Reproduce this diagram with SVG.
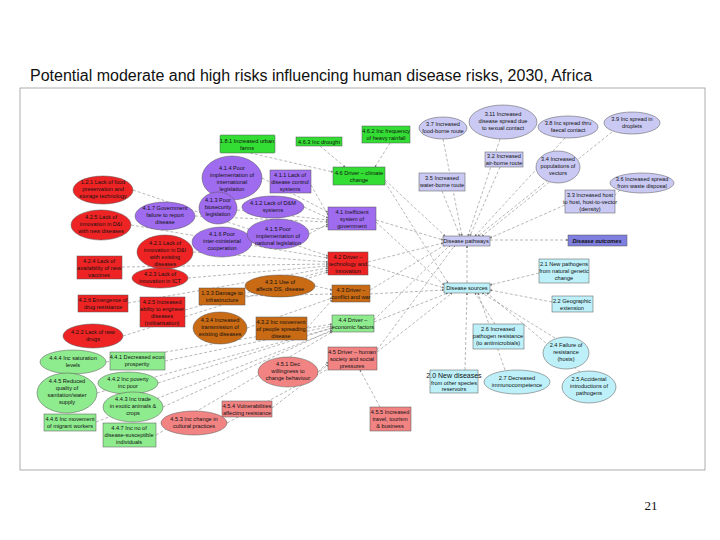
<svg xmlns="http://www.w3.org/2000/svg" width="720" height="540" viewBox="0 0 720 540">
<defs>
<marker id="ah" viewBox="0 0 6 6" refX="5" refY="3" markerWidth="4" markerHeight="4" orient="auto"><path d="M0,0L6,3L0,6z" fill="#777"/></marker>
<style>
text{font-family:"Liberation Sans",Arial,sans-serif;font-size:5.6px;fill:#111;text-anchor:middle}
.t{font-size:16px;text-anchor:start}
.pg{font-family:"Liberation Serif",serif;font-size:13px}
.n{stroke:#555;stroke-width:0.5}
.g{fill:#33dd33}.lg{fill:#8eeb8e}.p{fill:#9f6cf0}.r{fill:#ee2424}.o{fill:#c96a14}.pk{fill:#f18383}.c{fill:#bdf0f8}.l{fill:#c9c9f3}.d{fill:#7f7fe0}
#edges line{stroke:#888;stroke-width:0.6;stroke-dasharray:3,2;marker-end:url(#ah)}
</style>
</defs>
<rect width="720" height="540" fill="#fff"/>
<text class="t" x="30" y="81">Potential moderate and high risks influencing human disease risks, 2030, Africa</text>
<rect x="20" y="88" width="685" height="382" fill="none" stroke="#999" stroke-width="0.8"/>
<text class="pg" x="651" y="510">21</text>
<g id="edges">
<line x1="250" y1="153" x2="333" y2="172"/><line x1="320" y1="146" x2="345" y2="167"/><line x1="390" y1="143" x2="375" y2="167"/>
<line x1="385" y1="180" x2="445" y2="236"/><line x1="376" y1="220" x2="443" y2="240"/><line x1="368" y1="262" x2="443" y2="243"/><line x1="370" y1="290" x2="445" y2="245"/><line x1="374" y1="320" x2="450" y2="245"/><line x1="377" y1="350" x2="455" y2="245"/>
<line x1="385" y1="182" x2="448" y2="283"/><line x1="376" y1="222" x2="444" y2="285"/><line x1="368" y1="265" x2="444" y2="288"/><line x1="370" y1="294" x2="444" y2="290"/><line x1="374" y1="322" x2="448" y2="293"/><line x1="377" y1="352" x2="452" y2="293"/>
<line x1="443" y1="139" x2="462" y2="236"/><line x1="500" y1="139" x2="468" y2="236"/><line x1="565" y1="138" x2="475" y2="236"/><line x1="612" y1="132" x2="482" y2="236"/><line x1="500" y1="167" x2="470" y2="236"/><line x1="548" y1="180" x2="478" y2="236"/><line x1="565" y1="205" x2="490" y2="238"/><line x1="442" y1="191" x2="460" y2="236"/><line x1="620" y1="190" x2="610" y2="200"/>
<line x1="467" y1="283" x2="467" y2="246"/>
<line x1="490" y1="240" x2="568" y2="240"/>
<line x1="539" y1="273" x2="490" y2="285"/><line x1="552" y1="302" x2="490" y2="290"/><line x1="495" y1="324" x2="475" y2="293"/><line x1="555" y1="338" x2="482" y2="293"/><line x1="465" y1="370" x2="467" y2="293"/><line x1="505" y1="370" x2="478" y2="293"/><line x1="580" y1="372" x2="487" y2="293"/>
<line x1="262" y1="178" x2="328" y2="212"/><line x1="311" y1="185" x2="328" y2="215"/><line x1="304" y1="207" x2="328" y2="218"/><line x1="237" y1="210" x2="328" y2="220"/><line x1="309" y1="234" x2="328" y2="224"/><line x1="195" y1="216" x2="328" y2="222"/><line x1="252" y1="242" x2="328" y2="226"/>
<line x1="193" y1="252" x2="328" y2="262"/><line x1="188" y1="278" x2="328" y2="266"/><line x1="131" y1="225" x2="328" y2="258"/><line x1="122" y1="267" x2="328" y2="264"/><line x1="128" y1="303" x2="328" y2="268"/><line x1="185" y1="310" x2="328" y2="270"/><line x1="123" y1="336" x2="328" y2="272"/><line x1="133" y1="190" x2="328" y2="256"/>
<line x1="245" y1="296" x2="332" y2="294"/><line x1="315" y1="286" x2="332" y2="290"/><line x1="247" y1="328" x2="332" y2="298"/><line x1="307" y1="328" x2="332" y2="300"/>
<line x1="165" y1="361" x2="332" y2="326"/><line x1="106" y1="362" x2="332" y2="324"/><line x1="97" y1="393" x2="332" y2="328"/><line x1="158" y1="383" x2="332" y2="328"/><line x1="163" y1="407" x2="332" y2="330"/><line x1="96" y1="422" x2="332" y2="331"/><line x1="156" y1="435" x2="332" y2="332"/>
<line x1="318" y1="372" x2="328" y2="362"/><line x1="272" y1="408" x2="328" y2="365"/><line x1="227" y1="423" x2="330" y2="368"/><line x1="380" y1="407" x2="360" y2="370"/>
</g>
<g id="n181"><rect class="n g" x="220" y="135" width="55" height="18" rx="1"/><text x="247" y="143">1.8.1 Increased urban</text><text x="247" y="150">farms</text></g>
<g id="n463"><rect class="n g" x="296" y="137" width="46" height="9"/><text x="319" y="143.5">4.6.3 Inc drought</text></g>
<g id="n462"><rect class="n g" x="362" y="126" width="48" height="17"/><text x="386" y="133">4.6.2 Inc frequency</text><text x="386" y="140">of heavy rainfall</text></g>
<g id="n46"><rect class="n g" x="333" y="167" width="52" height="18"/><text x="359" y="174.5">4.6 Driver – climate</text><text x="359" y="181.5">change</text></g>
<g id="n414"><ellipse class="n p" cx="232" cy="178" rx="30" ry="22"/><text x="232" y="170">4.1.4 Poor</text><text x="232" y="177">implementation of</text><text x="232" y="184">international</text><text x="232" y="191">legislation</text></g>
<g id="n411"><rect class="n p" x="270" y="170" width="41" height="23"/><text x="290" y="177">4.1.1 Lack of</text><text x="290" y="184">disease control</text><text x="290" y="191">systems</text></g>
<g id="n121"><ellipse class="n r" cx="103" cy="190" rx="30" ry="14"/><text x="103" y="184">1.2.1 Lack of food</text><text x="103" y="191">preservation and</text><text x="103" y="198">storage technology</text></g>
<g id="n425"><ellipse class="n r" cx="101" cy="225" rx="30" ry="15"/><text x="101" y="219">4.2.5 Lack of</text><text x="101" y="226">innovation in D&amp;I</text><text x="101" y="233">with new diseases</text></g>
<g id="n417"><ellipse class="n p" cx="165" cy="216" rx="30" ry="14"/><text x="165" y="210">4.1.7 Government</text><text x="165" y="217">failure to report</text><text x="165" y="224">disease</text></g>
<g id="n413"><ellipse class="n p" cx="218" cy="208" rx="19" ry="16"/><text x="218" y="202">4.1.3 Poor</text><text x="218" y="209">biosecurity</text><text x="218" y="216">legislation</text></g>
<g id="n412"><ellipse class="n p" cx="273" cy="207" rx="31" ry="11"/><text x="273" y="205">4.1.2 Lack of D&amp;M</text><text x="273" y="212">systems</text></g>
<g id="n41"><rect class="n p" x="328" y="207" width="48" height="23"/><text x="352" y="214">4.1 Inefficient</text><text x="352" y="221">system of</text><text x="352" y="228">government</text></g>
<g id="n416"><ellipse class="n p" cx="222" cy="242" rx="30" ry="15"/><text x="222" y="236">4.1.6 Poor</text><text x="222" y="243">inter-ministerial</text><text x="222" y="250">cooperation</text></g>
<g id="n415"><ellipse class="n p" cx="278" cy="234" rx="31" ry="15"/><text x="278" y="231">4.1.5 Poor</text><text x="278" y="238">implementation of</text><text x="278" y="245">national legislation</text></g>
<g id="n421"><ellipse class="n r" cx="165" cy="252" rx="28" ry="17"/><text x="165" y="245">4.2.1 Lack of</text><text x="165" y="252">innovation in D&amp;I</text><text x="165" y="259">with existing</text><text x="165" y="266">diseases</text></g>
<g id="n424"><rect class="n r" x="77" y="256" width="45" height="23"/><text x="99" y="263">4.2.4 Lack of</text><text x="99" y="270">availability of new</text><text x="99" y="277">vaccines</text></g>
<g id="n423"><ellipse class="n r" cx="160" cy="278" rx="28" ry="10"/><text x="160" y="276">4.2.3 Lack of</text><text x="160" y="283">innovation in ICT</text></g>
<g id="n42"><rect class="n r" x="328" y="252" width="40" height="23"/><text x="348" y="259">4.2 Driver –</text><text x="348" y="266">technology and</text><text x="348" y="273">innovation</text></g>
<g id="n426"><rect class="n r" x="78" y="295" width="50" height="17"/><text x="103" y="302">4.2.6 Emergence of</text><text x="103" y="309">drug resistance</text></g>
<g id="n425b"><rect class="n r" x="140" y="297" width="45" height="30"/><text x="162" y="304">4.2.5 Increased</text><text x="162" y="311">ability to engineer</text><text x="162" y="318">diseases</text><text x="162" y="325">(militarisation)</text></g>
<g id="n422"><ellipse class="n r" cx="93" cy="336" rx="30" ry="12"/><text x="93" y="334">4.2.2 Lack of new</text><text x="93" y="341">drugs</text></g>
<g id="n133"><rect class="n o" x="199" y="288" width="46" height="17"/><text x="222" y="295">1.3.3 Damage to</text><text x="222" y="302">infrastructure</text></g>
<g id="n431"><ellipse class="n o" cx="280" cy="286" rx="35" ry="11"/><text x="280" y="284">4.3.1 Use of</text><text x="280" y="291">affects DS, disease</text></g>
<g id="n43"><rect class="n o" x="332" y="285" width="38" height="17"/><text x="351" y="292">4.3 Driver –</text><text x="351" y="299">conflict and war</text></g>
<g id="n434"><ellipse class="n o" cx="220" cy="328" rx="27" ry="16"/><text x="220" y="322">4.3.4 Increased</text><text x="220" y="329">transmission of</text><text x="220" y="336">existing diseases</text></g>
<g id="n432"><rect class="n o" x="256" y="317" width="51" height="23"/><text x="281" y="324">4.3.2 Inc movement</text><text x="281" y="331">of people spreading</text><text x="281" y="338">disease</text></g>
<g id="n44"><rect class="n lg" x="332" y="315" width="42" height="17"/><text x="353" y="322">4.4 Driver –</text><text x="353" y="329">economic factors</text></g>
<g id="n45"><rect class="n pk" x="328" y="347" width="49" height="23"/><text x="352" y="354">4.5 Driver – human</text><text x="352" y="361">society and social</text><text x="352" y="368">pressures</text></g>
<g id="n444"><ellipse class="n lg" cx="73" cy="362" rx="33" ry="12"/><text x="73" y="360">4.4.4 Inc saturation</text><text x="73" y="367">levels</text></g>
<g id="n441"><rect class="n lg" x="110" y="352" width="55" height="18"/><text x="137" y="359">4.4.1 Decreased econ</text><text x="137" y="366">prosperity</text></g>
<g id="n445"><ellipse class="n lg" cx="67" cy="393" rx="30" ry="20"/><text x="67" y="383">4.4.5 Reduced</text><text x="67" y="390">quality of</text><text x="67" y="397">sanitation/water</text><text x="67" y="404">supply</text></g>
<g id="n442"><ellipse class="n lg" cx="128" cy="383" rx="30" ry="11"/><text x="128" y="381">4.4.2 Inc poverty</text><text x="128" y="388">inc poor</text></g>
<g id="n443"><ellipse class="n lg" cx="133" cy="407" rx="30" ry="15"/><text x="133" y="401">4.4.3 Inc trade</text><text x="133" y="408">in exotic animals &amp;</text><text x="133" y="415">crops</text></g>
<g id="n446"><rect class="n lg" x="44" y="414" width="52" height="17"/><text x="70" y="421">4.4.6 Inc movement</text><text x="70" y="428">of migrant workers</text></g>
<g id="n447"><rect class="n lg" x="103" y="423" width="53" height="24"/><text x="129" y="430">4.4.7 Inc no of</text><text x="129" y="437">disease-susceptible</text><text x="129" y="444">individuals</text></g>
<g id="n451"><ellipse class="n pk" cx="288" cy="372" rx="30" ry="15"/><text x="288" y="366">4.5.1 Dec</text><text x="288" y="373">willingness to</text><text x="288" y="380">change behaviour</text></g>
<g id="n454"><rect class="n pk" x="222" y="401" width="50" height="16"/><text x="247" y="408">4.5.4 Vulnerabilities</text><text x="247" y="415">affecting resistance</text></g>
<g id="n453"><ellipse class="n pk" cx="194" cy="423" rx="33" ry="12"/><text x="194" y="421">4.5.3 Inc change in</text><text x="194" y="428">cultural practices</text></g>
<g id="n455"><rect class="n pk" x="370" y="407" width="41" height="24"/><text x="390" y="414">4.5.5 Increased</text><text x="390" y="421">travel, tourism</text><text x="390" y="428">&amp; business</text></g>
<g id="nds"><rect class="n c" x="444" y="283" width="46" height="10"/><text x="467" y="290">Disease sources</text></g>
<g id="n21"><rect class="n c" x="539" y="259" width="50" height="24"/><text x="564" y="266">2.1 New pathogens</text><text x="564" y="273">from natural genetic</text><text x="564" y="280">change</text></g>
<g id="n22"><rect class="n c" x="552" y="296" width="41" height="16"/><text x="572" y="303">2.2 Geographic</text><text x="572" y="310">extension</text></g>
<g id="n26"><rect class="n c" x="473" y="324" width="51" height="25"/><text x="498" y="331">2.6 Increased</text><text x="498" y="338">pathogen resistance</text><text x="498" y="345">(to antimicrobials)</text></g>
<g id="n24"><ellipse class="n c" cx="566" cy="353" rx="23" ry="16"/><text x="566" y="347">2.4 Failure of</text><text x="566" y="354">resistance</text><text x="566" y="361">(hosts)</text></g>
<g id="n20"><rect class="n c" x="430" y="370" width="48" height="23"/><text x="454" y="378" style="font-size:7px">2.0 New diseases</text><text x="454" y="385">from other species</text><text x="454" y="391">reservoirs</text></g>
<g id="n27"><ellipse class="n c" cx="517" cy="382" rx="33" ry="12"/><text x="517" y="380">2.7 Decreased</text><text x="517" y="387">immunocompetence</text></g>
<g id="n25"><ellipse class="n c" cx="589" cy="387" rx="27" ry="16"/><text x="589" y="381">2.5 Accidental</text><text x="589" y="388">introductions of</text><text x="589" y="395">pathogens</text></g>
<g id="n37"><ellipse class="n l" cx="443" cy="128" rx="24" ry="11"/><text x="443" y="126">3.7 Increased</text><text x="443" y="133">food-borne route</text></g>
<g id="n311"><ellipse class="n l" cx="503" cy="122" rx="34" ry="17"/><text x="503" y="116">3.11 Increased</text><text x="503" y="123">disease spread due</text><text x="503" y="130">to sexual contact</text></g>
<g id="n38"><ellipse class="n l" cx="568" cy="127" rx="30" ry="11"/><text x="568" y="125">3.8 Inc spread thru</text><text x="568" y="132">faecal contact</text></g>
<g id="n39"><ellipse class="n l" cx="632" cy="123" rx="28" ry="11"/><text x="632" y="121">3.9 Inc spread in</text><text x="632" y="128">droplets</text></g>
<g id="n32"><rect class="n l" x="485" y="152" width="38" height="15"/><text x="504" y="158">3.2 Increased</text><text x="504" y="165">air-borne route</text></g>
<g id="n34"><ellipse class="n l" cx="558" cy="167" rx="22" ry="16"/><text x="558" y="161">3.4 Increased</text><text x="558" y="168">populations of</text><text x="558" y="175">vectors</text></g>
<g id="n36"><ellipse class="n l" cx="642" cy="183" rx="32" ry="10"/><text x="642" y="181">3.6 Increased spread</text><text x="642" y="188">from waste disposal</text></g>
<g id="n35"><rect class="n l" x="419" y="173" width="46" height="18"/><text x="442" y="180">3.5 Increased</text><text x="442" y="187">water-borne route</text></g>
<g id="n33"><rect class="n l" x="565" y="190" width="50" height="23"/><text x="590" y="197">3.3 Increased host</text><text x="590" y="204">to host, host-to-vector</text><text x="590" y="211">(density)</text></g>
<g id="ndp"><rect class="n l" x="443" y="236" width="47" height="10"/><text x="466" y="243">Disease pathways</text></g>
<g id="ndo"><rect class="n d" x="568" y="235" width="59" height="11"/><text x="597" y="242.5" style="font-style:italic;font-weight:bold">Disease outcomes</text></g>
</svg>
